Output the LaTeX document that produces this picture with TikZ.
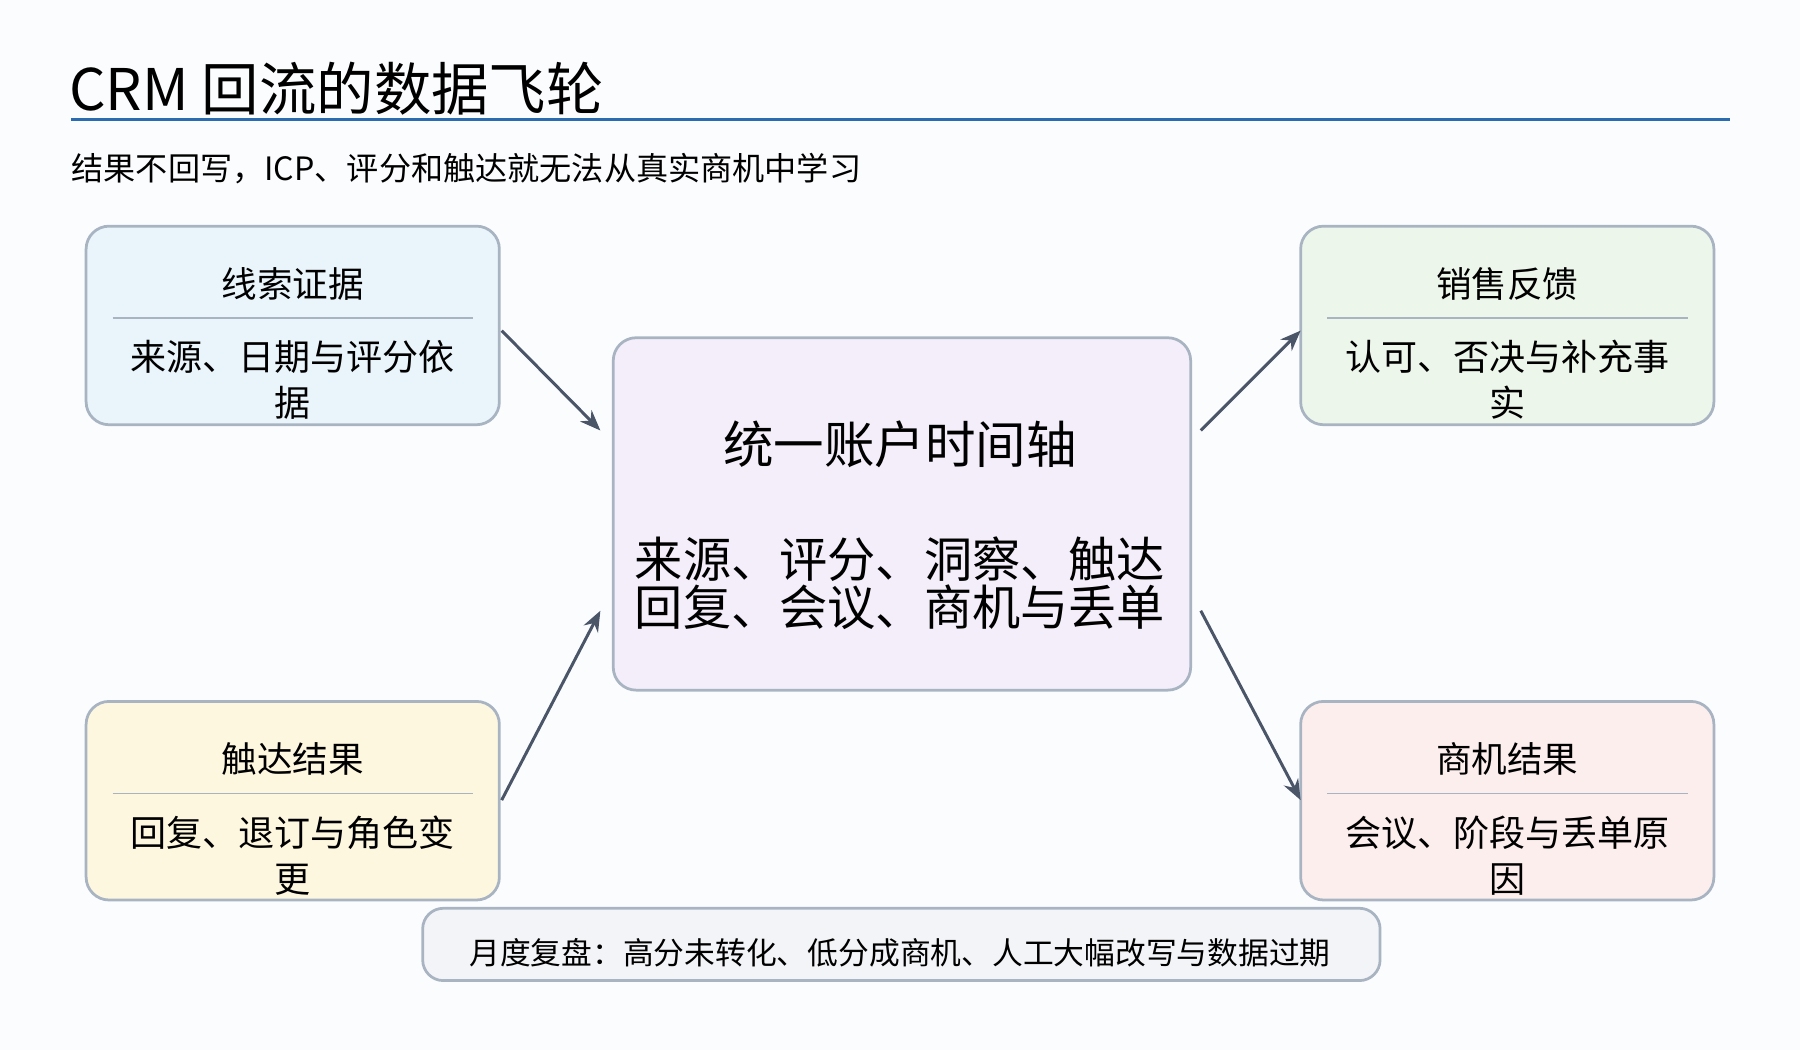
\documentclass[tikz,border=0pt]{standalone}
\usepackage{fontspec}
\setmainfont{Noto Sans CJK SC}
\usetikzlibrary{arrows.meta}
\definecolor{bg}{HTML}{FBFCFE}
\definecolor{bd}{HTML}{A9B4C2}
\definecolor{ar}{HTML}{4A5568}
\definecolor{rl}{HTML}{2B6CB0}
\tikzset{x=0.5pt,y=-0.5pt,
 box/.style={draw=bd,line width=1.2pt,rounded corners=10pt},
 arr/.style={draw=ar,line width=1.3pt,-{Stealth[length=9pt,width=7pt]}},
 tt/.style={font=\fontsize{15.5}{19}\selectfont,text=black},
 bt/.style={font=\fontsize{15.7}{20}\selectfont,text=black,align=center}}
\begin{document}
\begin{tikzpicture}
\useasboundingbox (0,0) rectangle (1568,915);
\fill[bg] (0,0) rectangle (1568,915);
\node[anchor=base west,font=\fontsize{25}{30}\selectfont,inner sep=0] (title) at (60,96) {CRM 回流的数据飞轮};
\draw[rl,line width=1.5pt] (62,104) -- (1507,104);
\node[anchor=base west,font=\fontsize{14}{17}\selectfont,inner sep=0] (sub) at (62,157) {结果不回写，ICP、评分和触达就无法从真实商机中学习};
% boxes
\foreach \n/\x/\y/\c/\t/\a/\b in {lt/75/197/EAF4FB/线索证据/来源、日期与评分依/据, rt/1133/197/EDF6EA/销售反馈/认可、否决与补充事/实, lb/75/611/FEF7E0/触达结果/回复、退订与角色变/更, rb/1133/611/FDEEEE/商机结果/会议、阶段与丢单原/因}{
 \definecolor{fc}{HTML}{\c}
 \draw[box,fill=fc] (\x,\y) rectangle ++(360,173);
 \draw[bd,line width=0.6pt] (\x+23,\y+80) -- (\x+337,\y+80);
 \node[tt] (\n t) at (\x+180,\y+50) {\t};
 \node[bt] (\n b) at (\x+180,\y+134) {\a\\\b};
}
\node[box,fill={rgb,255:red,243;green,238;blue,249},minimum width=503pt*0.5,minimum height=307pt*0.5,anchor=north west] (c) at (533,293) {};
\node[font=\fontsize{22}{26}\selectfont] (ct) at (784,387) {统一账户时间轴};
\node[font=\fontsize{21}{21}\selectfont,align=center] (cb) at (784,508) {来源、评分、洞察、触达\\回复、会议、商机与丢单};
\node[box,fill={rgb,255:red,243;green,244;blue,247},minimum width=834pt*0.5,minimum height=63pt*0.5,anchor=north west,rounded corners=9pt] (bot) at (367,790) {};
\node[font=\fontsize{13.4}{16}\selectfont] (bt) at (784,830) {月度复盘：高分未转化、低分成商机、人工大幅改写与数据过期};
\coordinate (a1) at (437,288); \coordinate (a2) at (523,375);
\coordinate (b1) at (437,697); \coordinate (b2) at (523,532);
\coordinate (c1) at (1046,375); \coordinate (c2) at (1133,288);
\coordinate (d1) at (1046,532); \coordinate (d2) at (1133,697);
\draw[arr] (a1) -- (a2);
\draw[arr] (b1) -- (b2);
\draw[arr] (c1) -- (c2);
\draw[arr] (d1) -- (d2);
\end{tikzpicture}
\end{document}
